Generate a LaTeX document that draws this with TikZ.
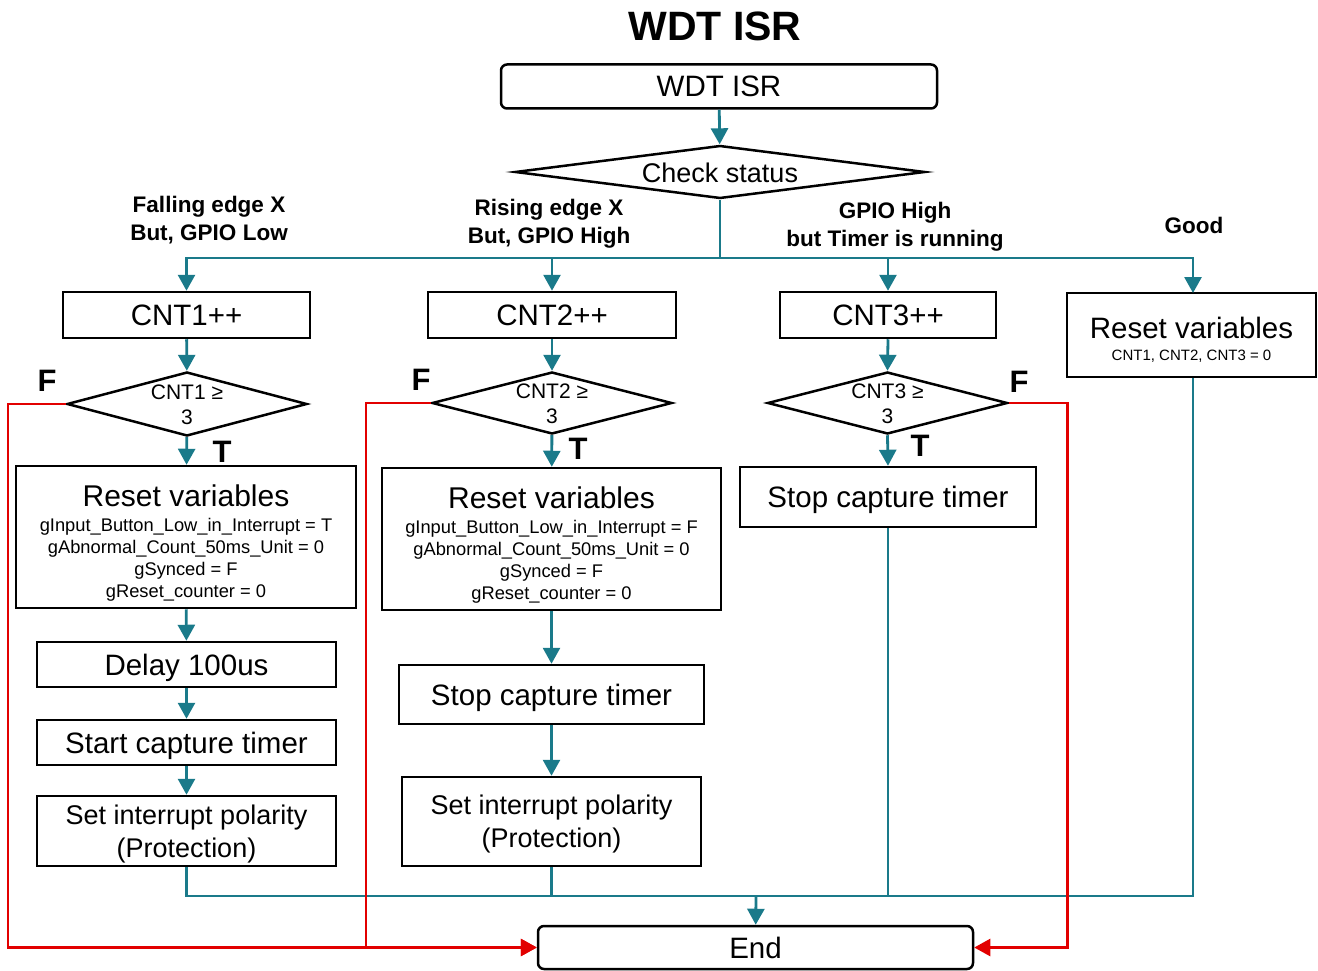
\documentclass[tikz,border=0pt]{standalone}
\usepackage{fontspec}
\setmainfont{Liberation Sans}
\usetikzlibrary{shapes.geometric,arrows.meta}
\definecolor{flowteal}{RGB}{26,122,138}
\definecolor{flowred}{RGB}{226,0,0}
\begin{document}
\begin{tikzpicture}[x=1pt,y=-1pt,
  fbox/.style={draw=black, line width=2.5pt, inner sep=0pt, align=center, text depth=0pt, font=\fontsize{29.5}{33}\selectfont},
  rbox/.style={fbox, rounded corners=6pt},
  dia/.style={diamond, draw=black, line width=2.5pt, inner sep=0pt},
  diatext/.style={inner sep=0pt, align=center, font=\fontsize{21}{25}\selectfont},
  small/.style={fbox, font=\fontsize{18.3}{22}\selectfont},
  lbl/.style={inner sep=0pt, align=center, font=\fontsize{22.5}{28}\selectfont\bfseries},
  tf/.style={inner sep=0pt, font=\fontsize{31}{31}\selectfont\bfseries},
  tline/.style={draw=flowteal, line width=2.8pt},
  tarr/.style={tline, -{Triangle[width=17pt,length=16pt]}},
  rarr/.style={draw=flowred, line width=2.5pt, -{Triangle[width=17pt,length=16pt]}}
]
\useasboundingbox (0,0) rectangle (1318,971);

% title
\node[font=\fontsize{41}{44}\selectfont\bfseries, inner sep=0pt] (title) at (715,26) {WDT ISR};

% top
\node[rbox, minimum width=436pt, minimum height=44pt] (isr) at (719,86.5) {WDT ISR};
\node[dia, minimum width=410pt, minimum height=53pt] (chk) at (720,172) {};
\node[inner sep=0pt, font=\fontsize{27}{30}\selectfont] (chkt) at (720,173) {Check status};

% branch labels
\node[lbl] (l1) at (209,220) {Falling edge X\\But, GPIO Low};
\node[lbl] (l2) at (549,224) {Rising edge X\\But, GPIO High};
\node[lbl] (l3) at (895,227) {GPIO High\\but Timer is running};
\node[lbl] (l4) at (1194,225) {Good};

% row of counters
\node[fbox, minimum width=247pt, minimum height=46pt] (c1) at (186.5,315) {CNT1++};
\node[fbox, minimum width=248pt, minimum height=46pt] (c2) at (552,315) {CNT2++};
\node[fbox, minimum width=216pt, minimum height=46pt] (c3) at (888,315) {CNT3++};
\node[fbox, minimum width=249pt, minimum height=84pt, font=\fontsize{15}{18}\selectfont] (r4) at (1191.5,335)
  {{\fontsize{29.5}{33}\selectfont\rule{0pt}{29pt}Reset variables}\\[4pt]CNT1, CNT2, CNT3 = 0};

% decisions
\node[dia, minimum width=240pt, minimum height=64pt] (d1) at (187,404) {};
\node[diatext] (d1t) at (187,405) {CNT1 ≥\\3};
\node[dia, minimum width=240pt, minimum height=62pt] (d2) at (552,403) {};
\node[diatext] (d2t) at (552,404) {CNT2 ≥\\3};
\node[dia, minimum width=240pt, minimum height=62pt] (d3) at (887.5,403) {};
\node[diatext] (d3t) at (887.5,404) {CNT3 ≥\\3};

% T / F labels
\node[tf] (f1) at (47,381) {F};
\node[tf] (f2) at (421,380) {F};
\node[tf] (f3) at (1019,382) {F};
\node[tf] (t1) at (222,452) {T};
\node[tf] (t2) at (578,449) {T};
\node[tf] (t3) at (920,446) {T};

% column 1
\node[small, minimum width=340pt, minimum height=142pt] (rv1) at (186,537)
  {{\fontsize{30}{33}\selectfont\rule{0pt}{30pt}Reset variables}\\[3pt]gInput\_Button\_Low\_in\_Interrupt = T\\gAbnormal\_Count\_50ms\_Unit = 0\\gSynced = F\\gReset\_counter = 0};
\node[fbox, minimum width=299pt, minimum height=45pt] (dl1) at (186.5,664.5) {Delay 100us};
\node[fbox, minimum width=299pt, minimum height=45pt] (sc1) at (186.5,742.5) {Start capture timer};
\node[fbox, minimum width=299pt, minimum height=70pt, font=\fontsize{27}{33}\selectfont] (sp1) at (186.5,831) {Set interrupt polarity\\(Protection)};

% column 2
\node[small, minimum width=339pt, minimum height=142pt] (rv2) at (551.5,539)
  {{\fontsize{30}{33}\selectfont\rule{0pt}{30pt}Reset variables}\\[3pt]gInput\_Button\_Low\_in\_Interrupt = F\\gAbnormal\_Count\_50ms\_Unit = 0\\gSynced = F\\gReset\_counter = 0};
\node[fbox, minimum width=305pt, minimum height=59pt] (st2) at (551.5,694.5) {Stop capture timer};
\node[fbox, minimum width=299pt, minimum height=89pt, font=\fontsize{27}{33}\selectfont] (sp2) at (551.5,821.5) {Set interrupt polarity\\(Protection)};

% column 3
\node[fbox, minimum width=296pt, minimum height=60pt] (st3) at (888,497) {Stop capture timer};

% end
\node[rbox, minimum width=435pt, minimum height=43pt] (end) at (755.5,947.5) {End};

% junction coordinates
\coordinate (bus) at (720,258);
\coordinate (bb) at (756,896);

% teal connectors
\draw[tarr] (isr) -- (chk);
\draw[tline] (chk.south) -- (bus);
\draw[tarr] (bus) -| (c1);
\draw[tarr] (bus) -| (c2);
\draw[tarr] (bus) -| (c3);
\draw[tarr] (bus) -| (1193,293);
\draw[tarr] (c1) -- (d1);
\draw[tarr] (c2) -- (d2);
\draw[tarr] (c3.south) -- (d3.north);
\draw[tarr] (d1) -- (rv1);
\draw[tarr] (d2) -- (rv2);
\draw[tarr] (d3.south) -- (st3.north);
\draw[tarr] (rv1) -- (dl1);
\draw[tarr] (dl1) -- (sc1);
\draw[tarr] (sc1) -- (sp1);
\draw[tarr] (rv2) -- (st2);
\draw[tarr] (st2) -- (sp2);
\draw[tline] (sp1.south) |- (bb);
\draw[tline] (sp2.south) |- (bb);
\draw[tline] (st3.south) |- (bb);
\draw[tline] (r4.south -| 1193,0) |- (bb);
\draw[tarr] (bb) -- (end);

% red connectors
\draw[rarr] (d1.west) -- ++(-58,0) |- (end.west);
\draw[rarr] (d2.west) -- ++(-65,0) |- (end.west);
\draw[rarr] (d3.east) -- ++(58.5,0) |- (end.east);
\end{tikzpicture}
\end{document}
